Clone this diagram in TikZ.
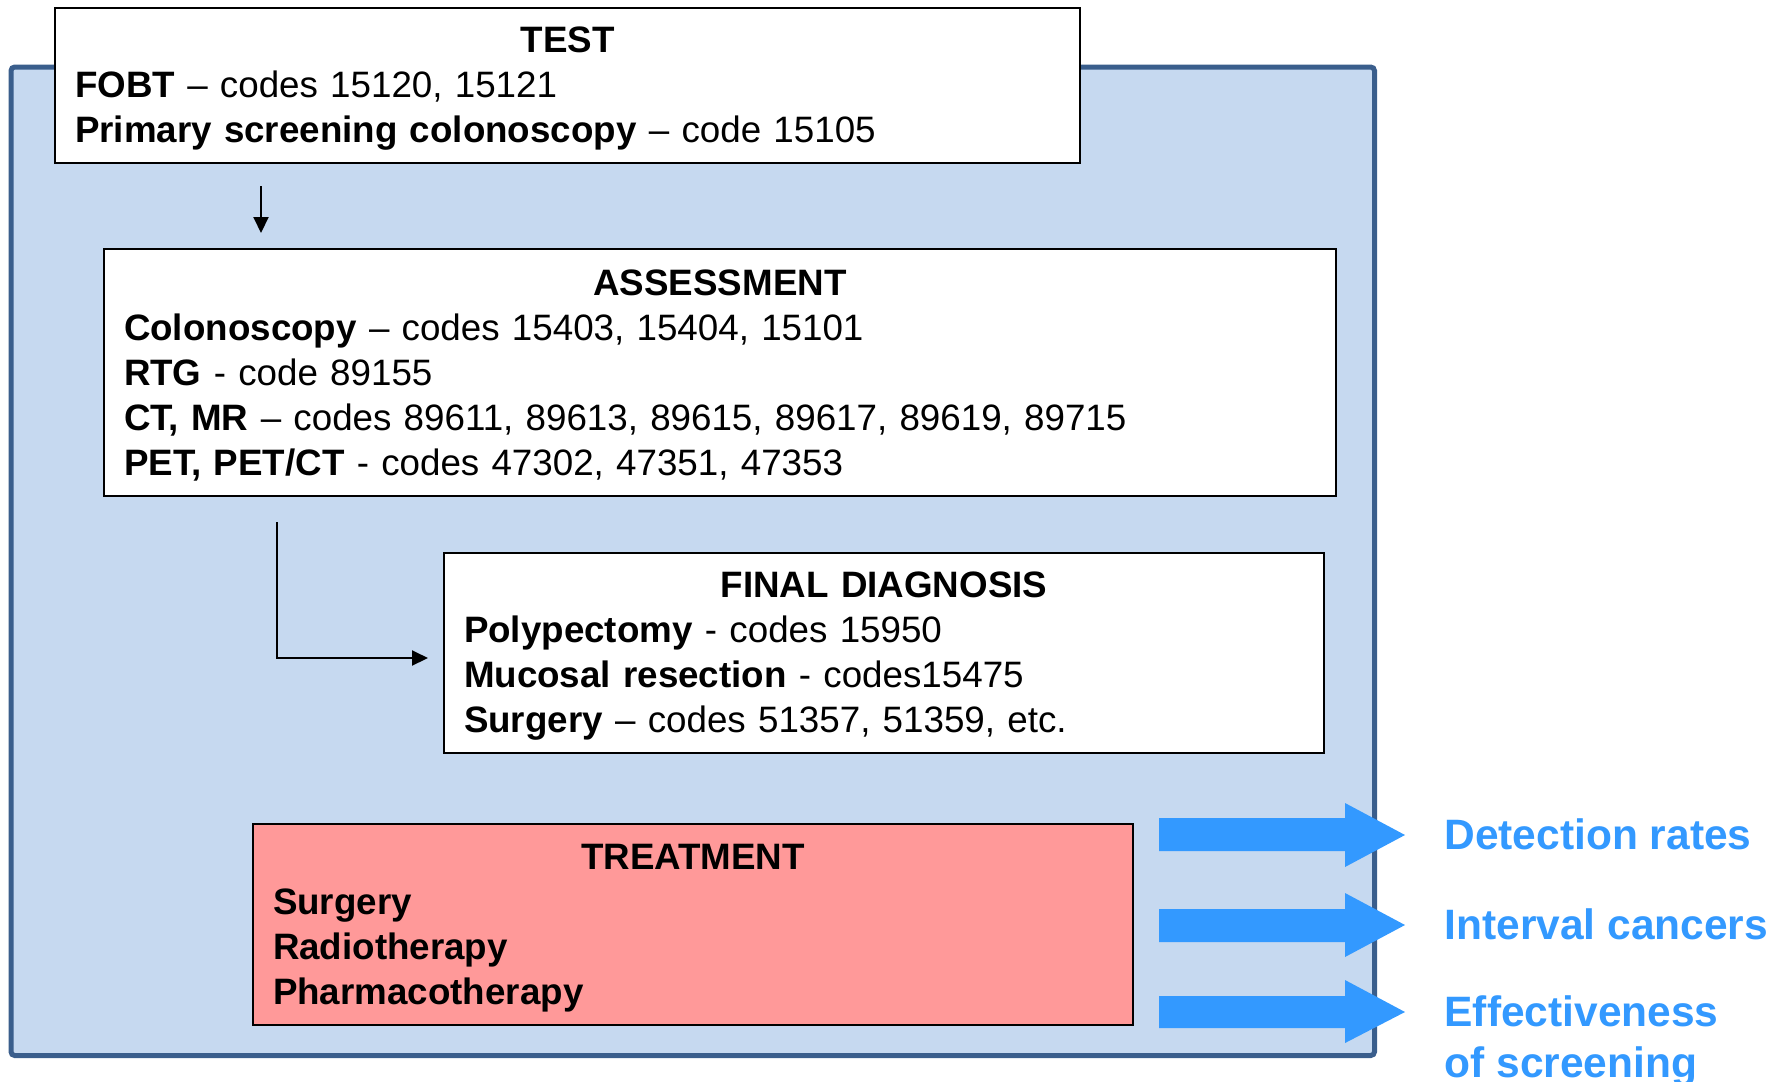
\documentclass[tikz,border=0pt]{standalone}
\usepackage{fontspec}
\setmainfont{Liberation Sans}
\usetikzlibrary{arrows.meta, positioning, calc}
\definecolor{panelblue}{RGB}{198, 217, 240}
\definecolor{frameblue}{RGB}{58, 94, 140}
\definecolor{treatred}{RGB}{255, 153, 153}
\definecolor{outblue}{RGB}{51, 153, 255}
\newcommand{\boxtitle}[1]{\makebox[\linewidth]{\rule{0pt}{13pt}\textbf{#1}}}

\begin{document}
\begin{tikzpicture}[x=0.4pt, y=-0.4pt,
  stagebox/.style={draw, line width=0.8pt, fill=white, anchor=north west, align=left, inner xsep=8pt, inner ysep=4pt, font=\fontsize{14.7}{18}\selectfont},
  link/.style={-{Triangle[length=6.4pt, width=6pt]}, line width=0.8pt},
  outcome/.style={text=outblue, font=\fontsize{17}{20.4}\selectfont\bfseries, inner sep=0pt},
  fatarrow/.style={fill=outblue}
]
  \useasboundingbox (0,0) rectangle (1779,1081);

  % Background panel
  \draw[frameblue, line width=2pt, fill=panelblue, rounded corners=1.5pt] (11,67) rectangle (1374.5,1055.5);

  % Stages
  \node[stagebox, minimum width=410pt, minimum height=62pt, text width=394pt] (test) at (54,7)
    {\boxtitle{TEST}\\
     \textbf{FOBT} -- codes 15120, 15121\\
     \textbf{Primary screening colonoscopy} -- code 15105};
  \node[stagebox, minimum width=492.8pt, minimum height=98.8pt, text width=476.8pt] (assess) at (103,248)
    {\boxtitle{ASSESSMENT}\\
     \textbf{Colonoscopy} -- codes 15403, 15404, 15101\\
     \textbf{RTG} - code 89155\\
     \textbf{CT, MR} -- codes 89611, 89613, 89615, 89617, 89619, 89715\\
     \textbf{PET, PET/CT} - codes 47302, 47351, 47353};
  \node[stagebox, minimum width=352pt, minimum height=80pt, text width=336pt] (final) at (443,552)
    {\boxtitle{FINAL DIAGNOSIS}\\
     \textbf{Polypectomy} - codes 15950\\
     \textbf{Mucosal resection} - codes15475\\
     \textbf{Surgery} -- codes 51357, 51359, etc.};
  \node[stagebox, fill=treatred, minimum width=352pt, minimum height=80.4pt, text width=336pt] (treat) at (252,823)
    {\boxtitle{TREATMENT}\\
     \textbf{Surgery}\\
     \textbf{Radiotherapy}\\
     \textbf{Pharmacotherapy}};

  \coordinate (t1) at ([xshift=82.8pt]test.south west);
  \draw[link, shorten <=8.8pt, shorten >=6pt] (t1) -- (t1 |- assess.north);
  \coordinate (a1) at ([xshift=69.6pt]assess.south west);
  \draw[link, shorten <=10pt, shorten >=6pt] (a1) |- ([yshift=-2pt]final.west);

  % Outcomes
  \fill[fatarrow] (1159,818) -- (1345,818) -- (1345,803) -- (1405,835) -- (1345,867) -- (1345,851) -- (1159,851) -- cycle;
  \fill[fatarrow] (1159,909) -- (1345,909) -- (1345,893) -- (1405,925) -- (1345,957) -- (1345,942) -- (1159,942) -- cycle;
  \fill[fatarrow] (1159,996) -- (1345,996) -- (1345,980) -- (1405,1012) -- (1345,1043) -- (1345,1028) -- (1159,1028) -- cycle;

  \node[outcome, anchor=base west] (det) at (1444,849) {Detection rates};
  \node[outcome, anchor=base west] (intv) at (1444,939) {Interval cancers};
  \node[outcome, anchor=north west, align=left] (eff) at (1444,995) {Effectiveness\\of screening};
\end{tikzpicture}
\end{document}
